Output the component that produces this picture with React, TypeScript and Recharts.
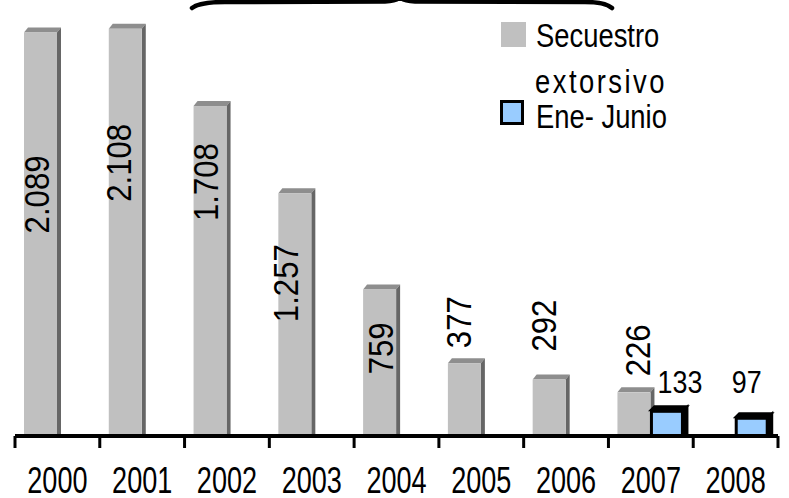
import React from "react";
import { BarChart, Bar, XAxis, YAxis, LabelList, Customized } from "recharts";

const years = ["2000", "2001", "2002", "2003", "2004", "2005", "2006", "2007", "2008"];
const secuestro = [2089, 2108, 1708, 1257, 759, 377, 292, 226, null];
const eneJunio = [null, null, null, null, null, null, null, 133, 97];

// label placement (style): [dx from bar centre, dy of label centre from bar top], per category
const grayLabelPos: [number, number][] = [
  [-4, 162], [-6, 134], [-4, 76], [-9, 90], [1, 59], [-6, -41], [-5, -54], [4, -42], [0, 0],
];
const blueLabelPos: [number, number][] = [
  [0, 0], [0, 0], [0, 0], [0, 0], [0, 0], [0, 0], [0, 0], [13, -29], [-5, -36],
];

const data = years.map((y, i) => ({ year: y, secuestro: secuestro[i], ene: eneJunio[i] }));

const W = 789;
const H = 498;
const M = { top: 11, right: 11, left: 15, bottom: 12 };
const BAND = (W - M.left - M.right) / years.length;
const FONT = "'Liberation Sans', Arial, sans-serif";

const fmt = (v: number) => String(v).replace(/\B(?=(\d{3})+(?!\d))/g, ".");
const catIndex = (x: number) => Math.max(0, Math.min(years.length - 1, Math.floor((x - M.left) / BAND)));

const GrayBar = (p: any) => {
  const { x, y, width, height } = p;
  if (!height || height <= 0) return null;
  const d = 4, d2 = 5;
  return (
    <g>
      <polygon points={`${x},${y} ${x + d},${y - d2} ${x + width + d},${y - d2} ${x + width},${y}`} fill="#8e8e8e" />
      <polygon points={`${x + width},${y} ${x + width + d},${y - d2} ${x + width + d},${y + height} ${x + width},${y + height}`} fill="#666666" />
      <rect x={x} y={y} width={width} height={height} fill="#c0c0c0" />
    </g>
  );
};

const BlueBar = (p: any) => {
  const { x, y, width, height } = p;
  if (!height || height <= 0) return null;
  const d = 4, d2 = 4;
  return (
    <g>
      <polygon points={`${x},${y} ${x + d},${y - d2} ${x + width + d},${y - d2} ${x + width},${y}`} fill="#000" stroke="#000" strokeWidth={2} />
      <polygon points={`${x + width},${y} ${x + width + d},${y - d2} ${x + width + d},${y + height} ${x + width},${y + height}`} fill="#000" stroke="#000" strokeWidth={2} />
      <rect x={x + 1} y={y + 1} width={width - 2} height={height - 1} fill="#99ccff" stroke="#000" strokeWidth={3} />
    </g>
  );
};

const GrayLabel = (p: any) => {
  const { x, y, width, value } = p;
  if (value == null) return null;
  const [dx, dy] = grayLabelPos[catIndex(x)] || [0, 0];
  const cx = x + width / 2 + dx;
  const cy = y + dy;
  return (
    <text
      transform={`translate(${cx},${cy}) rotate(-90) scale(0.89,1)`}
      textAnchor="middle"
      dominantBaseline="central"
      fontFamily={FONT}
      fontSize={35}
      fill="#000"
    >
      {fmt(value)}
    </text>
  );
};

const BlueLabel = (p: any) => {
  const { x, y, width, value } = p;
  if (value == null) return null;
  const [dx, dy] = blueLabelPos[catIndex(x)] || [0, 0];
  const cx = x + width / 2 + dx;
  const cy = y + dy;
  return (
    <text
      transform={`translate(${cx},${cy}) scale(0.84,1)`}
      textAnchor="middle"
      dominantBaseline="central"
      fontFamily={FONT}
      fontSize={32}
      fill="#000"
    >
      {fmt(value)}
    </text>
  );
};

const YearTick = (p: any) => {
  const { x, y, payload, index } = p;
  const last = index === years.length - 1;
  return (
    <g>
      <line x1={x - BAND / 2} x2={x - BAND / 2} y1={y} y2={y + 12} stroke="#000" strokeWidth={3} />
      {last && <line x1={x + BAND / 2} x2={x + BAND / 2} y1={y} y2={y + 12} stroke="#000" strokeWidth={3} />}
      <text
        transform={`translate(${x},${y + 57}) scale(0.82,1.13)`}
        textAnchor="middle"
        fontFamily={FONT}
        fontSize={33}
        fill="#000"
      >
        {payload.value}
      </text>
    </g>
  );
};

const LegendText = ({ x, y, children, ls = 0 }: any) => (
  <text transform={`translate(${x},${y}) scale(0.83,1.02)`} fontFamily={FONT} fontSize={33} letterSpacing={ls} fill="#000">
    {children}
  </text>
);

const Overlay = () => (
  <g>
    <path
      d="M 192 8 Q 200 2 225 2 L 385 1.5 Q 397 1 400 -3 Q 403 1 415 1.5 L 585 2 Q 605 2 612 8"
      fill="none"
      stroke="#000"
      strokeWidth={4.5}
      strokeLinecap="round"
    />
    <rect x={501} y={22} width={25} height={25} fill="#c0c0c0" />
    <LegendText x={536} y={47}>Secuestro</LegendText>
    <LegendText x={535} y={93} ls={3}>extorsivo</LegendText>
    <rect x={501.5} y={101.5} width={21} height={22} fill="#99ccff" stroke="#000" strokeWidth={3} />
    <LegendText x={536} y={128}>Ene- Junio</LegendText>
  </g>
);

export default function App() {
  return (
    <div style={{ position: "absolute", left: 0, top: 0, width: W, height: H, background: "#fff" }}>
      <BarChart width={W} height={H} data={data} margin={M} barGap={0} barSize={33}>
        <XAxis
          dataKey="year"
          height={50}
          axisLine={{ stroke: "#000", strokeWidth: 4 }}
          tickLine={false}
          tickSize={0}
          tickMargin={0}
          interval={0}
          tick={<YearTick />}
        />
        <YAxis hide domain={[0, 2200]} />
        <Bar dataKey="secuestro" shape={<GrayBar />} isAnimationActive={false}>
          <LabelList dataKey="secuestro" content={<GrayLabel />} />
        </Bar>
        <Bar dataKey="ene" shape={<BlueBar />} isAnimationActive={false}>
          <LabelList dataKey="ene" content={<BlueLabel />} />
        </Bar>
        <Customized component={<Overlay />} />
      </BarChart>
    </div>
  );
}
